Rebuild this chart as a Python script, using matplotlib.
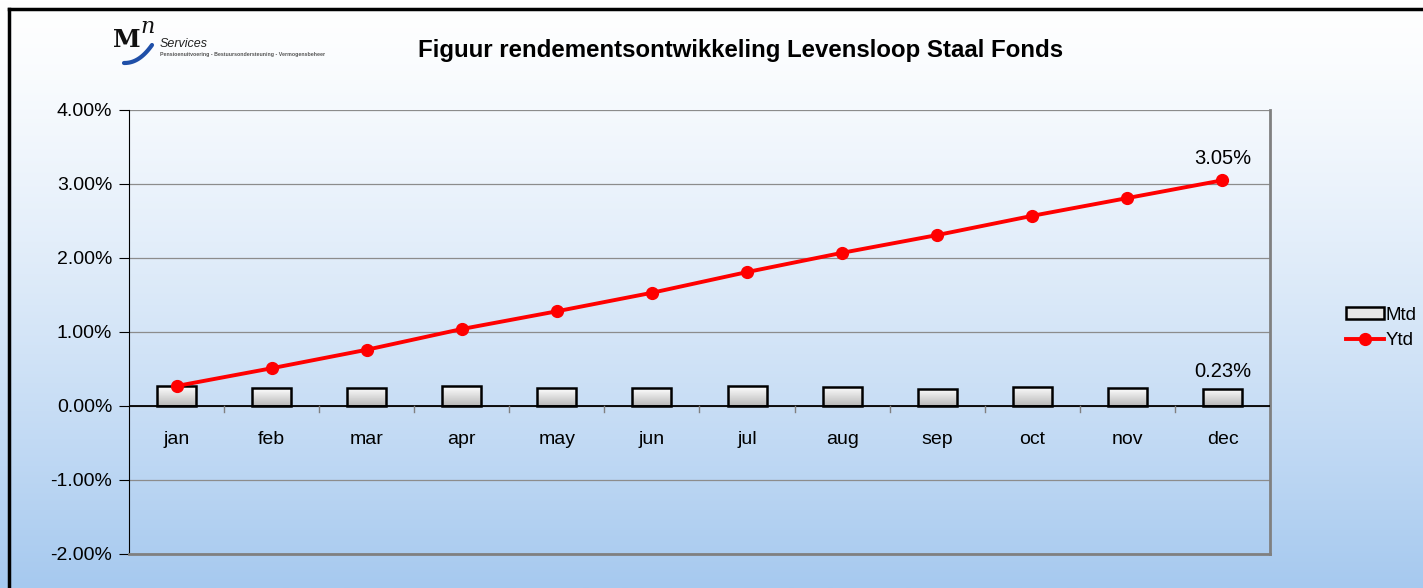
import matplotlib.pyplot as plt
import numpy as np
from matplotlib.lines import Line2D
from matplotlib.patches import Rectangle
from matplotlib.ticker import PercentFormatter

plt.rcParams['font.family'] = ['Liberation Sans', 'DejaVu Sans']
plt.rcParams['axes.unicode_minus'] = False

months = ['jan', 'feb', 'mar', 'apr', 'may', 'jun', 'jul', 'aug', 'sep', 'oct', 'nov', 'dec']
mtd = [0.27, 0.24, 0.25, 0.27, 0.24, 0.24, 0.27, 0.26, 0.23, 0.26, 0.24, 0.23]
ytd = [0.27, 0.51, 0.76, 1.04, 1.28, 1.53, 1.81, 2.07, 2.31, 2.57, 2.81, 3.05]
title = 'Figuur rendementsontwikkeling Levensloop Staal Fonds'

W, H = 1423, 588
fig = plt.figure(figsize=(W / 100, H / 100), dpi=100)

# background gradient for the whole chart area
bg = fig.add_axes([0, 0, 1, 1], zorder=-10)
grad = np.linspace(0, 1, 256) ** 1.3
top = np.array([1.0, 1.0, 1.0])
bot = np.array([0xa6, 0xc9, 0xef]) / 255
img = top[None, None, :] * (1 - grad[:, None, None]) + bot[None, None, :] * grad[:, None, None]
bg.imshow(img, aspect='auto', extent=[0, 1, 0, 1], origin='upper')
bg.set_xlim(0, 1)
bg.set_ylim(0, 1)
bg.axis('off')
# outer frame (left and top only visible)
bg.plot([9 / W, 9 / W], [0, 1 - 9 / H], color='black', lw=2.5)
bg.plot([9 / W, 1], [1 - 9 / H, 1 - 9 / H], color='black', lw=2.5)

# logo
fig.text(113 / W, 1 - 47 / H, 'M', family='DejaVu Serif', fontweight='bold', fontsize=18, color='#111111')
fig.text(140 / W, 1 - 33 / H, 'n', family='DejaVu Serif', style='italic', fontsize=16, color='#111111')
fig.text(160 / W, 1 - 47 / H, 'Services', style='italic', fontsize=9, color='#222222')
fig.text(160 / W, 1 - 56 / H, 'Pensioenuitvoering - Bestuursondersteuning - Vermogensbeheer',
         fontsize=3.8, fontweight='bold', color='#555555')
t = np.linspace(0, 1, 30)
bg.plot((124 + 28 * t) / W, 1 - (63 - 18 * t ** 2.2) / H, color='#1f4fa8', lw=3, solid_capstyle='round')

fig.text(741 / W, 1 - 50 / H, title, ha='center', va='center', fontsize=17.3, fontweight='bold')

# plot area
l, r, t_, b = 129, 1270, 110, 554
ax = fig.add_axes([l / W, 1 - b / H, (r - l) / W, (b - t_) / H])
ax.patch.set_alpha(0)
x = np.arange(len(months))
ax.set_yticks(np.arange(-2, 4.01, 1))
ax.yaxis.set_major_formatter(PercentFormatter(decimals=2))
ax.grid(axis='y', color='#8c8c8c', lw=0.9)
ax.set_axisbelow(True)

bars = ax.bar(x, mtd, width=0.41, facecolor='none', edgecolor='black', lw=1.8, zorder=3)
gimg = np.linspace(1, 0.72, 64)[:, None]
for bar in bars:
    x0, y0 = bar.get_x(), bar.get_y()
    w, h = bar.get_width(), bar.get_height()
    im = ax.imshow(gimg, cmap='gray', vmin=0, vmax=1, aspect='auto',
                   extent=[x0, x0 + w, y0, y0 + h], origin='upper', zorder=2)
    im.set_clip_path(Rectangle((x0, y0), w, h, transform=ax.transData))
ax.set_xlim(-0.5, len(months) - 0.5)
ax.set_ylim(-2, 4)

ax.plot(x, ytd, color='#ff0000', lw=2.8, marker='o', ms=8.5, zorder=4)
ax.annotate(f'{ytd[-1]:.2f}%', (x[-1], ytd[-1]), xytext=(0, 9), textcoords='offset points',
            ha='center', va='bottom', fontsize=14.5)
ax.annotate(f'{mtd[-1]:.2f}%', (x[-1], mtd[-1]), xytext=(0, 6), textcoords='offset points',
            ha='center', va='bottom', fontsize=14.5)

ax.spines['top'].set_visible(False)
for s in ['right', 'bottom']:
    ax.spines[s].set_color('#808080')
    ax.spines[s].set_linewidth(2)
ax.spines['left'].set_color('black')
ax.axhline(0, color='black', lw=1.3, zorder=3)

# category labels under the zero line
ax.set_xticks([])
for xi, m in zip(x, months):
    ax.annotate(m, (xi, 0), xytext=(0, -18), textcoords='offset points',
                ha='center', va='top', fontsize=14)
for xm in np.arange(0.5, len(months) - 1, 1):
    ax.plot([xm, xm], [0, -0.08], color='#808080', lw=1, zorder=3, clip_on=False)
ax.tick_params(axis='y', length=7, labelsize=14, pad=5)

handles = [Rectangle((0, 0), 1, 1, facecolor='#e6e6e6', edgecolor='black', lw=1.8),
           Line2D([], [], color='#ff0000', lw=2.8, marker='o', ms=8.5)]
fig.legend(handles, ['Mtd', 'Ytd'], loc='center left', bbox_to_anchor=(1346 / W, 1 - 328 / H),
           frameon=False, fontsize=13.5, handlelength=2.0, handletextpad=0.1, labelspacing=0.45,
           borderaxespad=0, borderpad=0, handleheight=0.6)

fig.savefig('out.png', dpi=100)
